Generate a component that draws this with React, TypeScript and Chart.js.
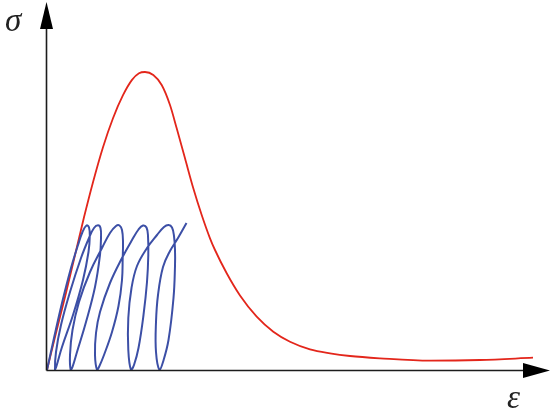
import React, { useEffect, useRef } from "react";
import { Chart, registerables } from "chart.js";

Chart.register(...registerables);

// Monotonic (envelope) stress–strain curve, arbitrary units
const redStrain = [0, 9, 18.5, 32, 37, 46, 56, 66, 76, 85, 92, 98, 106.3, 114.7, 123, 129.7, 138, 146.3, 154.7, 163, 168, 179.7, 193, 209.7, 226.3, 243, 263, 283, 303, 333, 383, 433, 486];
const redStress = [0, 37, 75, 131.7, 152.7, 187.8, 222.8, 251.8, 274.8, 290.1, 296.8, 298, 295, 285, 265, 241.7, 211.7, 181.7, 155, 131.7, 120, 96.7, 74.5, 53.3, 38.3, 28.3, 20.7, 16.7, 14, 11.7, 9.3, 10, 12.3];

// Cyclic loading–unloading path
const blueStrain = [
  0, 7, 15, 24, 31, 35.5, 39.5, 42, 42.8, 41.5, 36, 26, 15, 9.5, 8,
  9, 14, 23, 34, 42, 47, 51, 53.5, 54, 53, 48, 39, 30, 25.5, 23.7,
  23, 25.5, 32, 43, 55, 63, 69, 72.5, 75, 76, 75.7, 75, 71.5, 65, 57, 52, 50,
  48, 49, 53, 63, 75, 85, 91.5, 96, 99.5, 101, 101.3, 100, 96.5, 91.5, 87, 84,
  81.3, 81.3, 84.5, 90, 100, 110, 117, 121.5, 125, 127, 128, 128, 126.5, 121.5, 116, 112.5,
  109, 109, 111, 116, 123, 131, 139.5,
];
const blueStress = [
  0, 32, 67, 102, 125, 138, 144.5, 142.5, 134, 118, 90, 55, 23, 4, 0,
  18, 45, 78, 112, 132, 142, 144.7, 142, 132, 115, 83, 48, 18, 3, 0,
  15, 40, 68, 98, 122, 137, 144, 144.5, 140, 128, 112, 90, 64, 38, 15, 3, 0,
  15, 37, 58, 87, 112, 130, 140.5, 144.5, 142.5, 134, 115, 88, 55, 22, 5, 0,
  20, 52, 82, 104, 122, 135, 143, 145, 142.5, 134, 120, 104, 72, 30, 8, 0,
  18, 48, 75, 103, 119, 132, 147,
];

const X_MAX = 503;
const Y_MAX = 370;

const axesPlugin = {
  id: "arrowAxes",
  afterDatasetsDraw(chart: any) {
    const { ctx, scales } = chart;
    const x0 = scales.x.getPixelForValue(0) - 0.5;
    const y0 = scales.y.getPixelForValue(0) + 0.5;
    const xEnd = scales.x.getPixelForValue(X_MAX);
    const yEnd = scales.y.getPixelForValue(Y_MAX) + 2;
    ctx.save();
    ctx.strokeStyle = "#1c1c1c";
    ctx.fillStyle = "#000";
    ctx.lineWidth = 1.6;
    // y axis
    ctx.beginPath();
    ctx.moveTo(x0, y0);
    ctx.lineTo(x0, yEnd + 24);
    ctx.stroke();
    ctx.beginPath();
    ctx.moveTo(x0, yEnd);
    ctx.lineTo(x0 - 6.5, yEnd + 27);
    ctx.lineTo(x0 + 6.5, yEnd + 27);
    ctx.closePath();
    ctx.fill();
    // x axis
    ctx.beginPath();
    ctx.moveTo(x0, y0);
    ctx.lineTo(xEnd - 25, y0);
    ctx.stroke();
    ctx.beginPath();
    ctx.moveTo(xEnd, y0);
    ctx.lineTo(xEnd - 27, y0 - 7.5);
    ctx.lineTo(xEnd - 27, y0 + 7.5);
    ctx.closePath();
    ctx.fill();
    // labels
    ctx.fillStyle = "#222";
    ctx.font = "italic 33px 'Liberation Serif', 'DejaVu Serif', serif";
    ctx.textBaseline = "alphabetic";
    ctx.textAlign = "left";
    ctx.fillText("σ", 5, 31);
    ctx.fillText("ε", 507, 408);
    ctx.restore();
  },
};

export default function App() {
  const canvasRef = useRef<HTMLCanvasElement | null>(null);

  useEffect(() => {
    document.body.style.margin = "0";
    const canvas = canvasRef.current;
    if (!canvas) return;
    const chart = new Chart(canvas, {
      type: "line",
      data: {
        datasets: [
          {
            label: "cyclic",
            data: blueStrain.map((x, i) => ({ x, y: blueStress[i] })),
            borderColor: "#3c4fa6",
            borderWidth: 2,
            pointRadius: 0,
            tension: 0.4,
            fill: false,
            clip: false as any,
          },
          {
            label: "monotonic",
            data: redStrain.map((x, i) => ({ x, y: redStress[i] })),
            borderColor: "#e3261b",
            borderWidth: 1.8,
            pointRadius: 0,
            cubicInterpolationMode: "monotone",
            fill: false,
            clip: false as any,
          },
        ],
      },
      options: {
        animation: false,
        responsive: false,
        maintainAspectRatio: false,
        layout: { padding: { left: 47, right: 0, top: 0, bottom: 46 } },
        plugins: {
          legend: { display: false },
          tooltip: { enabled: false },
          title: { display: false },
        },
        scales: {
          x: { type: "linear", min: 0, max: X_MAX, display: false },
          y: { type: "linear", min: 0, max: Y_MAX, display: false },
        },
      },
      plugins: [axesPlugin],
    });
    return () => chart.destroy();
  }, []);

  return (
    <div style={{ width: 550, height: 416, background: "#fff" }}>
      <canvas ref={canvasRef} width={550} height={416} style={{ display: "block" }} />
    </div>
  );
}
